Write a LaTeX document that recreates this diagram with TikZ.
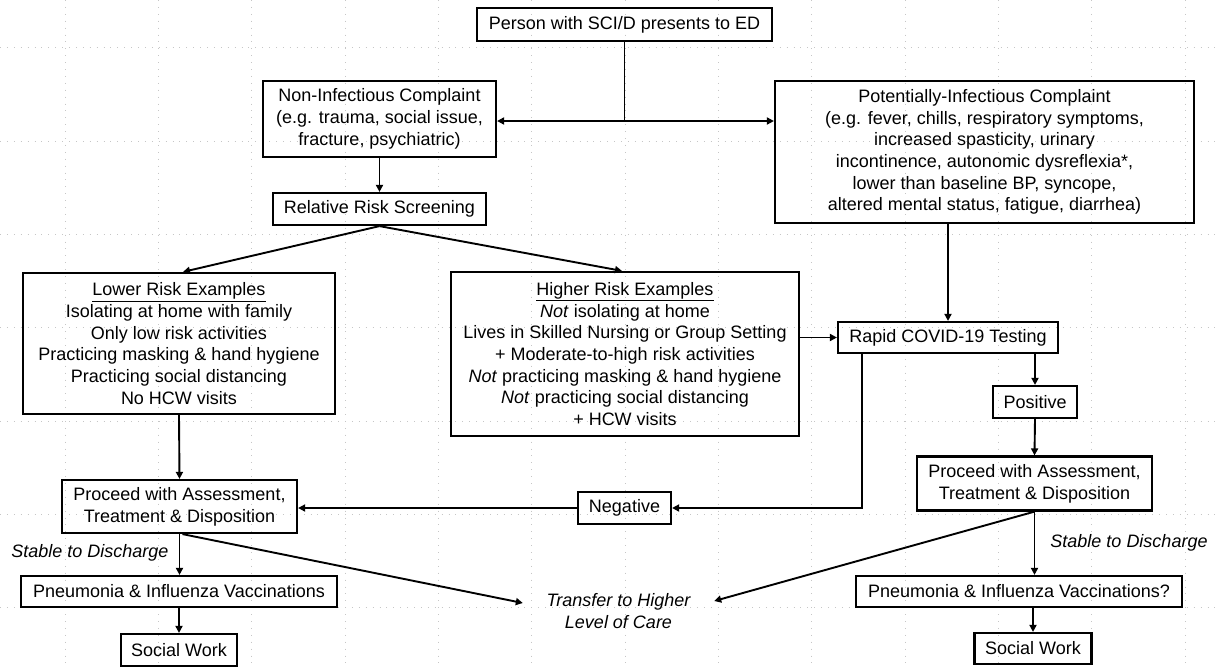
\documentclass[tikz,border=0pt]{standalone}
\usepackage{fontspec}
\setmainfont{Liberation Sans}
\usetikzlibrary{arrows.meta,calc}
\newcommand\fsz{\fontsize{18}{21.7}\selectfont}
\begin{document}
\begin{tikzpicture}[x=1pt,y=-1pt,
  box/.style={draw,line width=2.2pt,align=center,inner sep=0pt,font=\fsz},
  lbl/.style={align=center,inner sep=0pt,font=\fsz\itshape},
  ln/.style={line width=1.9pt},
  arr/.style={line width=1.9pt,-{Triangle[length=7pt,width=7pt]}},
  gridln/.style={gray!45,line width=0.9pt,dash pattern=on 0.9pt off 6pt}]
\useasboundingbox[fill=white] (0,0) rectangle (1215,667);
% background grid
\foreach \i in {0,...,12} \draw[gridln] ({65+93.33*\i},0) -- ({65+93.33*\i},667);
\foreach \j in {0,...,6} \draw[gridln] (0,{47.7+93.33*\j}) -- (1215,{47.7+93.33*\j});
% nodes
\node[box,minimum width=295pt,minimum height=33pt] (person) at (624.5,24.5) {Person with SCI/D presents to ED};
\node[box,minimum width=233pt,minimum height=76pt] (noninf) at (379.5,119) {Non-Infectious Complaint\\(e.g. trauma, social issue,\\fracture, psychiatric)};
\node[box,minimum width=419pt,minimum height=142pt] (potinf) at (984.5,152) {Potentially-Infectious Complaint\\(e.g. fever, chills, respiratory symptoms,\\increased spasticity, urinary\\incontinence, autonomic dysreflexia*,\\lower than baseline BP, syncope,\\altered mental status, fatigue, diarrhea)};
\node[box,minimum width=213pt,minimum height=32pt] (rrs) at (379.5,209) {Relative Risk Screening};
\node[box,minimum width=312pt,minimum height=141pt] (lower) at (179,343.5) {\underline{Lower Risk Examples}\\Isolating at home with family\\Only low risk activities\\Practicing masking \& hand hygiene\\Practicing social distancing\\No HCW visits};
\node[box,minimum width=348pt,minimum height=164pt] (higher) at (625,354) {\underline{Higher Risk Examples}\\\textit{Not} isolating at home\\Lives in Skilled Nursing or Group Setting\\+ Moderate-to-high risk activities\\\textit{Not} practicing masking \& hand hygiene\\\textit{Not} practicing social distancing\\+ HCW visits};
\node[box,minimum width=220pt,minimum height=31pt] (rapid) at (948,337.5) {Rapid COVID-19 Testing};
\node[box,minimum width=84pt,minimum height=32pt] (positive) at (1035,402) {Positive};
\node[box,minimum width=235pt,minimum height=54pt] (procR) at (1034.5,483.5) {Proceed with Assessment,\\Treatment \& Disposition};
\node[box,minimum width=93pt,minimum height=32pt] (negative) at (624.5,508) {Negative};
\node[box,minimum width=235pt,minimum height=53pt] (procL) at (179.5,506.5) {Proceed with Assessment,\\Treatment \& Disposition};
\node[lbl] (stableL) at (90,553) {Stable to Discharge};
\node[box,minimum width=316pt,minimum height=31pt] (vaccL) at (179,591.5) {Pneumonia \& Influenza Vaccinations};
\node[box,minimum width=116pt,minimum height=32pt] (socialL) at (179,650) {Social Work};
\node[lbl,minimum width=191pt] (transfer) at (618.5,611) {Transfer to Higher\\Level of Care};
\node[lbl] (stableR) at (1129,543) {Stable to Discharge};
\node[box,minimum width=326pt,minimum height=31pt] (vaccR) at (1019,591.5) {Pneumonia \& Influenza Vaccinations?};
\node[box,minimum width=117pt,minimum height=31pt] (socialR) at (1033,648.5) {Social Work};
% connectors
\coordinate (j) at (624.5,121);
\draw[ln] (person.south) -- (j);
\draw[arr] (j) -- (j -| noninf.east);
\draw[arr] (j) -- (j -| potinf.west);
\draw[arr] (noninf.south) -- (rrs.north);
\draw[arr] (rrs.south) -- ([xshift=4pt]lower.north);
\draw[arr] (rrs.south) -- ([xshift=-3pt]higher.north);
\draw[arr] (lower.south) -- (procL.north);
\draw[arr] (rapid.west -| higher.east) -- (rapid.west);
\draw[arr] (rapid.north |- potinf.south) -- (rapid.north);
\draw[arr] ([xshift=-86pt]rapid.south) |- (negative.east);
\draw[arr] (negative.west) -- (negative.west -| procL.east);
\draw[arr] (positive.north |- rapid.south) -- (positive.north);
\draw[arr] (positive.south) -- (procR.north);
\draw[arr] (procR.south) -- (procR.south |- vaccR.north);
\draw[arr] (socialR.north |- vaccR.south) -- (socialR.north);
\draw[arr] (procR.south) -- ([yshift=10pt]transfer.east);
\draw[arr] ([xshift=3pt]procL.south) -- ([yshift=8pt]transfer.west);
\draw[arr] (procL.south) -- (procL.south |- vaccL.north);
\draw[arr] (vaccL.south) -- (socialL.north);
\end{tikzpicture}
\end{document}
